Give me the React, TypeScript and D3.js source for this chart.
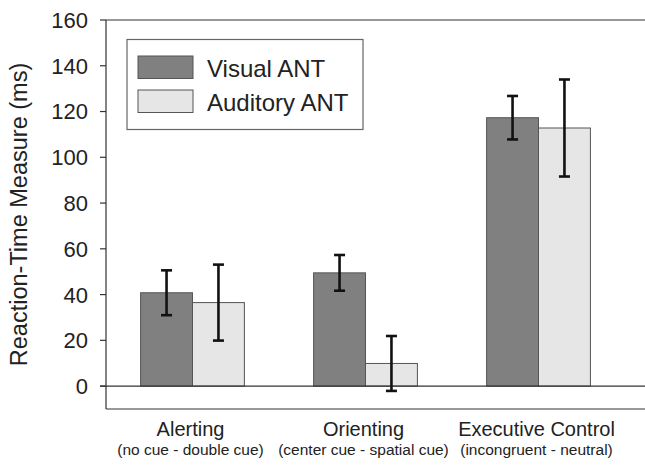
import * as d3 from "d3";

const categories = ["Alerting", "Orienting", "Executive Control"];
const subLabels = [
  "(no cue - double cue)",
  "(center cue - spatial cue)",
  "(incongruent - neutral)",
];
const seriesNames = ["Visual ANT", "Auditory ANT"];
const visualMeans = [40.8, 49.5, 117.3];
const visualErrors = [9.8, 7.8, 9.5];
const auditoryMeans = [36.5, 9.9, 112.8];
const auditoryErrors = [16.6, 12, 21.2];
const yTicks = [0, 20, 40, 60, 80, 100, 120, 140, 160];

const width = 645;
const height = 466;
const marginLeft = 106;
const marginTop = 20;
const plotBottom = 409;
const bandRight = 625;
const frameRight = width + 5;
const font = "'Liberation Sans', Arial, Helvetica, sans-serif";
const fills = ["#808080", "#e6e6e6"];

export default function App() {
  const x = d3
    .scaleBand<string>()
    .domain(categories)
    .range([marginLeft, bandRight])
    .paddingInner(0.4)
    .paddingOuter(0.2);
  const xs = d3
    .scaleBand<string>()
    .domain(seriesNames)
    .range([0, x.bandwidth()]);
  const y = d3.scaleLinear([-10, 160], [plotBottom, marginTop]);

  const series = [
    { name: seriesNames[0], means: visualMeans, errs: visualErrors },
    { name: seriesNames[1], means: auditoryMeans, errs: auditoryErrors },
  ];

  return (
    <svg
      width={width}
      height={height}
      style={{ position: "absolute", left: 0, top: 0, background: "#fff" }}
      fontFamily={font}
    >
      {/* frame */}
      <g stroke="#333" strokeWidth={1.2} fill="none">
        <line x1={marginLeft} x2={marginLeft} y1={marginTop} y2={plotBottom} />
        <line x1={marginLeft} x2={frameRight} y1={marginTop} y2={marginTop} />
        <line x1={marginLeft} x2={frameRight} y1={plotBottom} y2={plotBottom} />
      </g>

      {/* y axis */}
      <g>
        {yTicks.map((t) => (
          <g key={t} transform={`translate(0,${y(t)})`}>
            <line x1={marginLeft - 6} x2={marginLeft} stroke="#333" strokeWidth={1.2} />
            <text
              x={marginLeft - 18}
              dy="0.36em"
              textAnchor="end"
              fontSize={22}
              fill="#222"
            >
              {t}
            </text>
          </g>
        ))}
      </g>
      <text
        transform={`translate(27,${(marginTop + plotBottom) / 2}) rotate(-90)`}
        textAnchor="middle"
        fontSize={23.5}
        fill="#222"
      >
        Reaction-Time Measure (ms)
      </text>

      {/* bars */}
      {series.map((s, si) => (
        <g key={s.name}>
          {categories.map((c, ci) => {
            const bx = x(c)! + xs(s.name)!;
            const v = s.means[ci];
            return (
              <rect
                key={c}
                x={bx}
                y={y(v)}
                width={xs.bandwidth()}
                height={y(0) - y(v)}
                fill={fills[si]}
                stroke="#555"
                strokeWidth={1}
              />
            );
          })}
        </g>
      ))}

      {/* zero line */}
      <line x1={marginLeft - 6} x2={frameRight} y1={y(0)} y2={y(0)} stroke="#333" strokeWidth={1.2} />

      {/* error bars */}
      {series.map((s) => (
        <g key={s.name} stroke="#111" strokeWidth={2.6} fill="none">
          {categories.map((c, ci) => {
            const cx = x(c)! + xs(s.name)! + xs.bandwidth() / 2;
            const hi = y(s.means[ci] + s.errs[ci]);
            const lo = y(s.means[ci] - s.errs[ci]);
            return (
              <g key={c}>
                <line x1={cx} x2={cx} y1={hi} y2={lo} />
                <line x1={cx - 5.5} x2={cx + 5.5} y1={hi} y2={hi} />
                <line x1={cx - 5.5} x2={cx + 5.5} y1={lo} y2={lo} />
              </g>
            );
          })}
        </g>
      ))}

      {/* category labels */}
      {categories.map((c, i) => {
        const cx = x(c)! + x.bandwidth() / 2 - 2;
        return (
          <g key={c} fill="#222" textAnchor="middle">
            <text x={cx} y={436} fontSize={20}>
              {c}
            </text>
            <text x={cx} y={455} fontSize={15.5}>
              {subLabels[i]}
            </text>
          </g>
        );
      })}

      {/* legend */}
      <g>
        <rect x={127} y={39.5} width={236} height={90} fill="#fff" stroke="#666" strokeWidth={1.2} />
        {seriesNames.map((n, i) => (
          <g key={n} transform={`translate(138,${56 + i * 34})`}>
            <rect width={55} height={22.5} fill={fills[i]} stroke="#555" strokeWidth={1} />
            <text x={69} y={21} fontSize={24} fill="#222">
              {n}
            </text>
          </g>
        ))}
      </g>
    </svg>
  );
}
